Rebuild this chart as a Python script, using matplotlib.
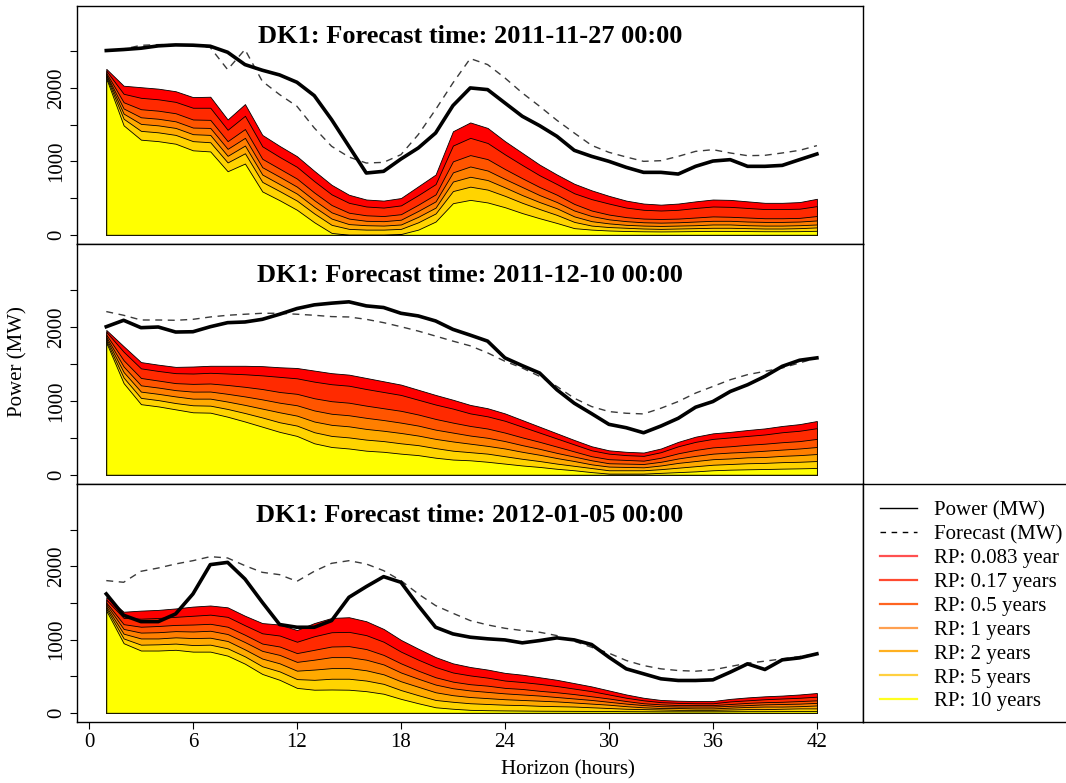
import matplotlib
matplotlib.use('Agg')
import matplotlib.pyplot as plt
from matplotlib.lines import Line2D
import numpy as np

plt.rcParams['font.family'] = ['Liberation Serif', 'DejaVu Serif']

# Horizon (hours)
hours = np.arange(1, 43)

rp_labels = ['RP: 0.083 year', 'RP: 0.17 years', 'RP: 0.5 years', 'RP: 1 years',
             'RP: 2 years', 'RP: 5 years', 'RP: 10 years']
rp_colors = ['#FF0000', '#FF2A00', '#FF5500', '#FF7F00', '#FFAA00', '#FFD400', '#FFFF00']
legend_colors = ['#FF5050', '#FF4A30', '#FF6420', '#FFA050', '#FFB020', '#FFD040', '#FFFF20']

titles = ['DK1: Forecast time: 2011-11-27 00:00',
          'DK1: Forecast time: 2011-12-10 00:00',
          'DK1: Forecast time: 2012-01-05 00:00']

# ---- panel 1: 2011-11-27 ----
top_power = [2509, 2523, 2541, 2573, 2586, 2582, 2568, 2486, 2318, 2241,
             2177, 2077, 1895, 1568, 1204, 841, 864, 1032, 1182, 1386,
             1759, 2000, 1977, 1795, 1614, 1486, 1341, 1150, 1068, 1000,
             918, 850, 850, 827, 932, 1004, 1023, 932, 932, 945, 1023, 1100]
top_forecast = [2500, 2530, 2580, 2590, 2590, 2580, 2550, 2250, 2523, 2091,
                1909, 1750, 1455, 1205, 1059, 977, 986, 1091, 1364, 1705,
                2068, 2400, 2318, 2136, 1932, 1750, 1559, 1386, 1218, 1123,
                1059, 1000, 1009, 1068, 1136, 1159, 1114, 1077, 1082, 1114, 1150, 1214]
top_rp = [
    [2260, 2030, 2010, 1990, 1955, 1875, 1880, 1570, 1780, 1360, 1210, 1070, 870, 680,
     545, 480, 465, 500, 660, 820, 1410, 1530, 1455, 1275, 1115, 955, 820, 695,
     605, 530, 465, 425, 410, 425, 455, 480, 475, 455, 435, 435, 445, 490],
    [2235, 1920, 1865, 1845, 1810, 1730, 1730, 1430, 1620, 1205, 1060, 925, 730, 550,
     435, 385, 370, 400, 540, 690, 1215, 1320, 1250, 1095, 950, 810, 690, 565,
     485, 425, 370, 340, 330, 340, 365, 385, 380, 365, 350, 350, 355, 390],
    [2205, 1805, 1710, 1690, 1655, 1570, 1565, 1275, 1440, 1035, 900, 765, 575, 405,
     300, 265, 255, 280, 410, 550, 1000, 1085, 1030, 895, 770, 650, 545, 420,
     330, 275, 240, 220, 215, 220, 235, 250, 245, 235, 225, 225, 230, 255],
    [2185, 1720, 1600, 1580, 1545, 1460, 1455, 1170, 1320, 920, 790, 655, 470, 305,
     220, 190, 185, 205, 325, 455, 850, 930, 875, 760, 650, 540, 445, 330,
     255, 210, 185, 170, 165, 170, 180, 190, 190, 180, 175, 175, 180, 195],
    [2170, 1650, 1510, 1490, 1455, 1370, 1360, 1075, 1215, 820, 690, 560, 380, 220,
     145, 130, 125, 140, 245, 370, 725, 790, 745, 645, 540, 445, 360, 250,
     185, 155, 135, 125, 120, 125, 130, 140, 140, 130, 125, 125, 130, 140],
    [2150, 1580, 1415, 1395, 1360, 1275, 1260, 985, 1110, 720, 595, 465, 290, 135,
     80, 70, 70, 80, 170, 290, 595, 655, 615, 530, 435, 350, 270, 175,
     125, 105, 95, 85, 80, 85, 90, 95, 95, 90, 85, 85, 90, 100],
    [2130, 1490, 1295, 1275, 1240, 1150, 1135, 865, 970, 590, 470, 340, 170, 25,
     0, 0, 0, 10, 70, 180, 430, 475, 440, 375, 295, 225, 160, 90,
     70, 58, 51, 47, 45, 47, 50, 53, 52, 50, 48, 48, 49, 54],
]

# ---- panel 2: 2011-12-10 ----
mid_power = [2004, 2091, 1991, 2000, 1932, 1936, 2004, 2059, 2068, 2104,
             2173, 2250, 2300, 2323, 2341, 2286, 2264, 2186, 2150, 2082,
             1968, 1890, 1809, 1582, 1477, 1377, 1150, 968, 827, 682,
             636, 568, 659, 764, 914, 991, 1127, 1218, 1332, 1468, 1550, 1582]
mid_forecast = [2209, 2159, 2095, 2095, 2091, 2104, 2136, 2159, 2173, 2186,
                2186, 2173, 2159, 2141, 2136, 2104, 2059, 2004, 1945, 1877,
                1809, 1745, 1650, 1536, 1445, 1332, 1195, 1036, 923, 855,
                832, 823, 900, 991, 1105, 1195, 1286, 1355, 1400, 1445, 1514, 1582]
mid_rp = [
    [1960, 1740, 1525, 1490, 1460, 1465, 1475, 1475, 1475, 1470, 1455, 1445, 1410, 1375,
     1355, 1310, 1265, 1220, 1150, 1080, 1015, 945, 900, 830, 740, 650, 560, 470,
     385, 330, 310, 300, 355, 445, 515, 560, 580, 605, 627, 660, 685, 727],
    [1935, 1665, 1440, 1405, 1375, 1370, 1380, 1370, 1360, 1345, 1325, 1305, 1260, 1225,
     1205, 1160, 1120, 1080, 1015, 950, 895, 830, 790, 730, 650, 570, 490, 410,
     330, 285, 265, 255, 305, 385, 445, 485, 505, 525, 545, 575, 595, 630],
    [1895, 1550, 1310, 1275, 1240, 1230, 1235, 1215, 1190, 1160, 1120, 1095, 1035, 995,
     975, 935, 900, 865, 815, 755, 705, 660, 625, 570, 505, 445, 380, 315,
     250, 210, 200, 190, 230, 290, 335, 370, 385, 405, 420, 440, 455, 485],
    [1865, 1465, 1210, 1180, 1145, 1125, 1126, 1095, 1060, 1020, 975, 940, 870, 825,
     805, 770, 740, 705, 665, 610, 570, 530, 500, 455, 400, 350, 295, 245,
     195, 155, 150, 145, 175, 220, 255, 285, 300, 310, 325, 340, 355, 375],
    [1840, 1390, 1125, 1095, 1060, 1030, 1030, 990, 945, 895, 845, 800, 720, 675,
     655, 620, 595, 565, 530, 485, 450, 420, 390, 355, 310, 270, 225, 185,
     140, 110, 105, 100, 125, 160, 185, 210, 220, 235, 240, 255, 265, 280],
    [1815, 1315, 1040, 1010, 970, 940, 935, 890, 835, 775, 710, 665, 575, 525,
     505, 475, 455, 425, 400, 360, 325, 305, 285, 250, 215, 185, 150, 120,
     90, 60, 60, 60, 75, 95, 115, 135, 145, 155, 160, 170, 175, 185],
    [1790, 1240, 955, 925, 885, 845, 840, 785, 720, 650, 580, 525, 425, 375,
     355, 325, 310, 285, 265, 230, 205, 195, 175, 150, 125, 105, 80, 60,
     35, 15, 15, 15, 25, 35, 45, 60, 68, 73, 77, 82, 86, 91],
]

# ---- panel 3: 2012-01-05 ----
bot_power = [1623, 1332, 1245, 1245, 1350, 1623, 2023, 2054, 1827, 1509,
             1205, 1168, 1168, 1259, 1577, 1723, 1859, 1782, 1464, 1168,
             1077, 1032, 1010, 995, 955, 986, 1023, 995, 932, 759,
             600, 532, 464, 441, 441, 450, 555, 668, 591, 723, 750, 805]
bot_forecast = [1805, 1782, 1932, 1977, 2032, 2077, 2132, 2114, 2009, 1918,
                1886, 1795, 1932, 2041, 2077, 2032, 1941, 1805, 1623, 1464,
                1359, 1259, 1200, 1154, 1123, 1100, 1054, 977, 895, 814,
                714, 645, 600, 577, 568, 586, 632, 677, 705, 736, 768, 805]
bot_rp = [
    [1580, 1380, 1395, 1405, 1425, 1450, 1465, 1440, 1325, 1225, 1205, 1130, 1225, 1295,
     1305, 1250, 1145, 995, 875, 760, 675, 625, 590, 545, 520, 485, 450, 405,
     360, 305, 250, 205, 175, 165, 160, 160, 190, 210, 225, 235, 250, 270],
    [1545, 1295, 1285, 1295, 1310, 1325, 1340, 1310, 1195, 1085, 1055, 970, 1045, 1100,
     1105, 1060, 970, 835, 725, 625, 550, 510, 480, 440, 420, 395, 365, 330,
     295, 250, 205, 170, 145, 135, 130, 130, 155, 170, 185, 195, 205, 220],
    [1505, 1210, 1175, 1185, 1200, 1205, 1215, 1175, 1065, 945, 905, 815, 860, 905,
     910, 870, 790, 675, 575, 485, 425, 390, 370, 340, 325, 300, 280, 255,
     225, 195, 160, 130, 115, 105, 105, 105, 120, 135, 145, 150, 160, 170],
    [1480, 1145, 1095, 1100, 1115, 1110, 1120, 1075, 965, 845, 790, 695, 725, 760,
     760, 725, 660, 550, 465, 385, 335, 305, 285, 265, 250, 235, 215, 195,
     175, 150, 125, 105, 90, 85, 85, 85, 95, 105, 115, 120, 125, 135],
    [1450, 1080, 1015, 1015, 1030, 1020, 1025, 980, 865, 740, 675, 575, 590, 610,
     610, 580, 525, 430, 355, 280, 240, 215, 200, 185, 175, 165, 155, 140,
     125, 110, 90, 75, 65, 65, 60, 60, 70, 80, 85, 85, 90, 100],
    [1425, 1015, 930, 935, 945, 925, 930, 880, 770, 635, 565, 460, 450, 465,
     465, 440, 395, 310, 240, 175, 150, 130, 120, 110, 105, 95, 90, 85,
     75, 65, 55, 50, 45, 40, 40, 40, 45, 50, 50, 55, 60, 60],
    [1395, 950, 850, 850, 860, 835, 835, 780, 670, 530, 450, 340, 315, 318,
     315, 295, 260, 190, 130, 75, 55, 40, 35, 32, 30, 28, 27, 26,
     25, 24, 22, 21, 20, 20, 20, 20, 21, 22, 22, 23, 24, 25],
]

panels = [(top_power, top_forecast, top_rp),
          (mid_power, mid_forecast, mid_rp),
          (bot_power, bot_forecast, bot_rp)]

# ---- layout (pixel based) ----
W, H = 1066, 783
fig = plt.figure(figsize=(W / 100, H / 100), dpi=100)
x_left, x_right = 77, 863
edges = [(5.7, 244.3), (244.3, 484.3), (484.3, 722.3)]

axes = []
for i, (t, b) in enumerate(edges):
    ax = fig.add_axes([x_left / W, 1 - b / H, (x_right - x_left) / W, (b - t) / H])
    power, forecast, rp = panels[i]
    for curve, col in zip(rp, rp_colors):
        ax.fill_between(hours, 0, curve, facecolor=col, edgecolor='black', linewidth=0.6)
    ax.plot(hours, forecast, color='#3a3a3a', lw=1.0, dashes=(5, 4))
    ax.plot(hours, power, color='black', lw=2.6, solid_joinstyle='round')
    ax.set_xlim(-0.69, 44.66)
    ax.set_ylim(-130, 3120)
    ax.set_yticks([0, 500, 1000, 1500, 2000, 2500])
    ax.set_yticklabels(['0', '', '1000', '', '2000', ''])
    ax.tick_params(axis='y', length=5, width=0.8, labelsize=15, pad=3)
    plt.setp(ax.get_yticklabels(), rotation=90, va='center')
    ax.text(0.5, 0.87, titles[i], transform=ax.transAxes, ha='center', va='center',
            fontsize=19, fontweight='bold')
    for s in ax.spines.values():
        s.set_linewidth(1.0)
    if i < 2:
        ax.tick_params(axis='x', bottom=False, labelbottom=False)
    else:
        ax.set_xticks(np.arange(0, 43, 6))
        ax.tick_params(axis='x', length=5, width=0.8, labelsize=15, pad=3)
    axes.append(ax)

fig.text(18 / W, 1 - 362 / H, 'Power (MW)', rotation=90, ha='center', va='center', fontsize=15)
fig.text(568 / W, 1 - 770 / H, 'Horizon (hours)', ha='center', va='center', fontsize=15)

# legend box to the right of the last panel
lax = fig.add_axes([x_right / W, 1 - 722.3 / H, 0.3, 238 / H])
lax.set_xticks([])
lax.set_yticks([])
for s in lax.spines.values():
    s.set_linewidth(1.0)

handles = [Line2D([], [], color='black', lw=1.0),
           Line2D([], [], color='black', lw=1.0, dashes=(4, 4))]
handles += [Line2D([], [], color=c, lw=1.6) for c in legend_colors]
labels = ['Power (MW)', 'Forecast (MW)'] + rp_labels
fig.legend(handles, labels, loc='upper left', bbox_to_anchor=(880 / W, 1 - 501 / H),
           bbox_transform=fig.transFigure, frameon=False, fontsize=15,
           handlelength=1.78, handletextpad=0.82, labelspacing=0.205,
           borderpad=0, borderaxespad=0)

fig.savefig('out.png', dpi=100)
